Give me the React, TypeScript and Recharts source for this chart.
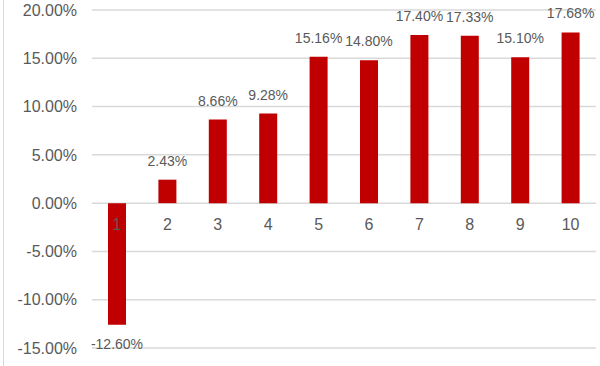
import { BarChart, Bar, XAxis, YAxis, CartesianGrid, LabelList } from "recharts";

const categories = ["1", "2", "3", "4", "5", "6", "7", "8", "9", "10"];
const returns = [-12.6, 2.43, 8.66, 9.28, 15.16, 14.8, 17.4, 17.33, 15.1, 17.68];
const yTicks = [-15, -10, -5, 0, 5, 10, 15, 20];

const data = categories.map((name, i) => ({ name, value: returns[i] }));

const FONT = "'Liberation Sans', Arial, sans-serif";
const TEXT = "#595959";

// value label above positive bars, below negative ones
const renderValue = (props: any) => {
  const { x, y, width, height, index } = props;
  const v = returns[index];
  const top = Math.min(y, y + height);
  const bottom = Math.max(y, y + height);
  const cx = x + width / 2;
  const ty = v >= 0 ? top - 19 : bottom + 19;
  return (
    <text
      x={cx}
      y={ty}
      textAnchor="middle"
      dominantBaseline="central"
      fill={TEXT}
      fontSize={14}
      fontFamily={FONT}
    >
      {`${v.toFixed(2)}%`}
    </text>
  );
};

// category label just under the zero line
const renderCategory = (props: any) => {
  const { x, y, width, height, index } = props;
  const v = returns[index];
  const zeroY = v >= 0 ? Math.max(y, y + height) : Math.min(y, y + height);
  return (
    <text
      x={x + width / 2}
      y={zeroY + 21}
      textAnchor="middle"
      dominantBaseline="central"
      fill={TEXT}
      fontSize={16}
      fontFamily={FONT}
    >
      {categories[index]}
    </text>
  );
};

export default function App() {
  return (
    <div style={{ position: "absolute", left: 0, top: 0, width: 600, height: 366, background: "#fff" }}>
      <div style={{ position: "absolute", left: 3, top: 0, width: 1, height: 366, background: "#d9d9d9" }} />
      <BarChart
        width={600}
        height={366}
        data={data}
        margin={{ top: 10, right: 4, bottom: 18, left: 0 }}
        barCategoryGap={0}
      >
        <CartesianGrid vertical={false} stroke="#d9d9d9" strokeWidth={1.5} />
        <XAxis dataKey="name" hide />
        <YAxis
          width={92}
          domain={[-15, 20]}
          ticks={yTicks}
          axisLine={false}
          tickLine={false}
          tickSize={0}
          tickMargin={15}
          tickFormatter={(v: number) => `${v.toFixed(2)}%`}
          tick={{ fill: TEXT, fontSize: 16, fontFamily: FONT }}
        />
        <Bar dataKey="value" fill="#C00000" barSize={18} isAnimationActive={false}>
          <LabelList dataKey="value" content={renderValue} />
          <LabelList dataKey="name" content={renderCategory} />
        </Bar>
      </BarChart>
    </div>
  );
}
